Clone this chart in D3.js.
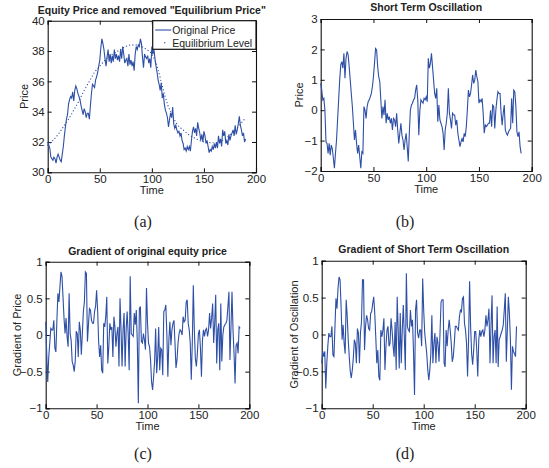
<!DOCTYPE html>
<html>
<head>
<meta charset="utf-8">
<script src="https://cdn.jsdelivr.net/npm/d3@7"></script>
<style>
  body { margin: 0; background: #fff; }
  svg text { font-family: "Liberation Sans", Arial, sans-serif; fill: #222; }
  .cap { font-family: "Liberation Serif", "Times New Roman", serif; }
</style>
</head>
<body>
<svg id="fig" width="549" height="468"></svg>
<script>
// ---- data (t = 0, 1, 2, ...) ----
let price = [32.0,31.8,31.6,31.0,30.9,30.8,31.0,30.9,30.6,31.0,31.2,31.0,30.8,30.7,31.2,31.7,32.4,33.0,33.5,33.8,
  34.5,34.8,35.0,34.9,35.3,34.7,35.4,35.7,35.5,35.2,35.0,34.8,34.4,34.1,33.8,34.2,34.0,33.6,33.9,33.9,
  33.5,34.4,35.2,35.8,35.7,35.6,36.1,36.3,36.6,37.0,37.4,38.2,38.8,38.5,38.1,37.5,37.0,37.6,38.1,37.3,
  37.8,37.2,37.7,37.3,38.1,37.5,37.8,37.4,37.7,37.3,38.1,37.5,38.3,37.8,37.2,37.4,37.5,37.0,37.8,37.1,
  37.4,37.0,37.3,36.7,37.8,38.3,38.1,38.4,38.3,38.8,38.5,37.6,36.9,37.8,37.6,37.5,37.7,37.2,37.5,36.9,
  38.3,37.8,38.1,37.5,37.0,36.6,36.1,35.8,35.4,35.9,34.9,35.2,34.5,34.1,33.9,33.6,33.0,33.5,33.9,33.6,
  34.3,33.2,32.9,33.1,32.8,32.6,32.7,32.4,32.6,32.1,31.9,31.5,31.6,31.4,31.7,31.5,31.7,31.4,32.1,32.7,
  33.0,32.6,32.9,32.4,33.3,32.9,32.6,32.1,32.5,32.0,32.7,32.4,31.9,32.1,31.7,31.3,31.5,31.4,31.7,31.5,
  31.9,31.6,32.0,31.6,32.4,31.9,32.2,31.7,32.8,32.4,32.7,31.9,32.1,31.8,32.5,32.1,32.4,32.6,32.8,32.4,
  33.1,32.5,32.8,33.2,33.7,33.1,32.8,32.4,32.6,32.0,32.2];

let eqTime  = [0,5,10,15,20,25,30,35,40,45,50,55,60,65,70,75,80,85,90,95,100,105,110,115,120,125,130,135,140,150,160,170,180,190];
let eqLevel = [31.8,32.1,32.5,33.0,33.5,34.1,34.7,35.4,36.0,36.6,37.0,37.4,37.7,37.9,38.1,38.3,38.4,38.4,38.3,38.1,37.8,37.0,35.7,34.5,33.7,33.1,32.8,32.5,32.3,32.0,31.95,32.2,32.8,33.6];

let oscillation = [0.88,0.66,0.34,0.39,0.0,-1.04,-1.09,-1.42,-1.09,-1.48,-1.15,-1.26,-1.58,-1.91,-1.42,-0.98,-0.32,0.34,0.99,1.49,
  1.6,1.38,1.87,1.05,1.7,1.93,1.82,1.43,0.99,0.55,0.12,-0.43,-0.98,-0.65,-1.09,-1.42,-1.15,-1.53,-1.91,-1.37,
  -1.42,0.12,0.0,-0.27,0.12,0.28,0.34,0.44,0.55,0.77,1.1,1.54,2.03,1.98,1.43,1.1,0.94,0.34,-0.27,0.12,
  -0.16,0.34,-0.43,-0.1,-0.32,-0.21,-0.43,-0.27,-0.65,-0.27,-0.32,-0.54,-0.1,-0.65,-1.09,-0.76,-0.43,-0.82,-0.98,-1.31,
  -0.98,-0.76,-1.2,-1.69,-0.76,0.0,0.17,0.23,0.34,0.39,0.66,0.83,0.34,-0.82,0.0,0.34,0.28,0.23,0.39,0.34,
  0.44,0.28,1.71,1.38,1.54,1.87,1.43,0.99,0.55,0.39,0.72,-0.38,0.17,-0.32,-0.43,-0.54,-0.76,-1.31,-0.65,-0.43,
  -0.1,0.72,-0.1,-0.32,-0.6,-0.1,-0.16,-0.16,-0.49,-0.32,-0.76,-0.98,-1.2,-1.04,-0.93,-1.04,-0.76,-0.87,-0.54,0.0,
  0.66,0.44,0.55,0.83,1.16,0.88,0.99,1.32,1.1,0.94,0.23,0.34,0.28,0.39,-0.1,-0.76,-0.49,-0.54,-0.49,-0.43,
  -0.43,0.0,-0.54,0.17,0.12,-0.6,0.0,0.34,0.61,0.55,0.55,-0.1,-0.49,-0.1,0.17,-0.65,-0.76,-0.82,-0.71,-0.65,
  -0.6,0.39,-0.43,0.66,0.61,0.12,-0.71,-0.87,-0.71,-1.2,-1.42];

let gradPrice = [0.18,-0.25,-0.64,-0.3,-0.11,0.09,0.07,0.07,0.2,-0.18,-0.23,0.2,0.57,0.45,0.66,0.86,0.8,0.52,0.23,0.02,
  0.23,-0.02,-0.16,0.57,0.02,-0.07,-0.36,-0.41,-0.5,-0.36,0.05,0.02,-0.3,0.18,0.07,-0.27,0.02,0.32,0.45,0.86,
  0.84,-0.09,0.14,0.36,0.34,0.2,0.16,0.16,0.32,0.39,0.61,0.34,-0.09,-0.3,-0.14,-0.48,-0.52,0.16,0.11,0.25,
  0.52,-0.39,-0.16,0.16,0.07,0.11,-0.3,0.25,0.11,-0.16,0.02,0.11,-0.43,0.5,0.07,-0.43,0.07,0.3,-0.43,0.07,
  0.32,0.02,-0.48,0.8,0.02,0.0,-0.02,0.3,0.14,0.34,-0.11,-0.93,0.36,0.39,-0.09,-0.11,0.02,-0.07,-0.2,0.64,
  0.16,-0.11,-0.16,-0.34,-0.64,-0.75,-0.57,-0.36,0.09,-0.52,-0.3,0.11,-0.48,-0.18,-0.2,-0.55,0.32,0.34,0.41,0.02,
  -0.57,-0.07,0.18,-0.14,0.07,0.16,0.2,-0.11,-0.45,-0.34,-0.11,0.02,0.07,0.05,0.0,0.25,0.18,0.2,0.45,0.48,
  0.16,0.07,-0.11,-0.61,-0.11,0.68,0.07,-0.32,-0.43,-0.25,0.02,0.07,-0.18,-0.57,-0.07,0.07,-0.02,0.07,0.09,-0.02,
  0.07,0.3,0.09,0.23,0.43,-0.11,0.16,0.55,-0.39,0.07,0.16,-0.48,0.43,-0.36,0.0,0.11,0.14,0.16,0.2,0.39,
  0.59,-0.34,0.11,0.59,0.07,-0.25,-0.66,-0.14,-0.11,-0.25,0.11,0.09];

let gradOsc = [-0.39,-0.23,-0.3,-0.23,-0.73,-0.39,-0.16,0.02,-0.03,-0.03,0.11,-0.28,-0.3,0.11,0.49,0.35,0.63,0.78,0.74,0.38,
  -0.07,0.13,-0.12,-0.26,0.47,0.25,-0.07,-0.3,-0.5,-0.59,-0.48,-0.32,-0.07,-0.12,-0.39,0.08,0.02,-0.39,0.02,0.17,
  0.74,0.74,-0.21,0.11,0.26,0.2,0.08,0.06,0.29,0.31,0.42,0.51,0.29,-0.03,-0.39,-0.21,-0.57,-0.62,0.06,-0.03,
  0.06,0.22,-0.48,-0.16,0.06,0.11,-0.16,-0.12,0.22,0.06,-0.16,-0.3,0.17,-0.48,0.51,0.06,-0.46,0.29,-0.39,0.06,
  0.4,-0.03,-0.48,0.83,0.11,0.06,0.04,0.33,0.11,0.2,-0.23,-0.82,0.33,0.47,0.02,-0.05,0.06,0.06,-0.16,0.76,
  0.33,0.02,-0.12,-0.26,-0.48,-0.62,-0.48,-0.26,0.26,-0.39,-0.12,0.02,-0.39,-0.03,-0.12,-0.37,0.02,0.44,0.47,0.47,
  -0.39,-0.44,0.06,-0.16,0.06,0.2,0.06,-0.12,-0.37,-0.3,-0.12,0.11,0.11,0.08,0.06,0.24,0.33,0.31,0.49,0.51,
  0.15,0.06,-0.12,-0.57,-0.07,0.72,0.11,-0.26,-0.41,-0.21,0.04,0.04,-0.21,-0.57,-0.07,0.06,-0.03,0.04,0.06,-0.03,
  0.06,0.26,0.11,0.2,0.35,-0.39,0.13,0.53,-0.39,-0.03,0.06,-0.39,0.38,-0.44,-0.07,-0.03,0.02,0.06,0.13,0.33,
  0.56,-0.37,0.06,0.51,0.29,-0.07,-0.75,-0.16,-0.23,-0.26,-0.3,0.11];

let xTicks = [0, 50, 100, 150, 200];

let lineColor = "#2e4fa6";
let svg = d3.select("#fig");

function drawPanel(p){
    let x = d3.scaleLinear().domain([0, 200]).range([p.left, p.right]);
    let y = d3.scaleLinear().domain(p.yDomain).range([p.bottom, p.top]);
    let g = svg.append("g");

    // inward ticks on all four sides, like the original
    g.append("g").attr("transform", `translate(0,${p.bottom})`)
        .call(d3.axisBottom(x).tickValues(xTicks).tickSize(-4).tickPadding(3).tickFormat(d3.format("d")));
    g.append("g").attr("transform", `translate(0,${p.top})`)
        .call(d3.axisTop(x).tickValues(xTicks).tickSize(-4).tickFormat(""));
    g.append("g").attr("transform", `translate(${p.left},0)`)
        .call(d3.axisLeft(y).tickValues(p.yTicks).tickSize(-4).tickPadding(3).tickFormat(p.yFormat));
    g.append("g").attr("transform", `translate(${p.right},0)`)
        .call(d3.axisRight(y).tickValues(p.yTicks).tickSize(-4).tickFormat(""));

    g.selectAll(".domain").attr("stroke", "#111").attr("stroke-width", 1.1);
    g.selectAll(".tick line").attr("stroke", "#111");
    g.selectAll(".tick text").attr("font-size", 11.5).attr("fill", "#222")
        .attr("font-family", "Liberation Sans, Arial, sans-serif");

    let line = d3.line().x((d, i) => x(i)).y(d => y(d));
    g.append("path").datum(p.values)
        .attr("fill", "none").attr("stroke", lineColor).attr("stroke-width", 1.1)
        .attr("d", line);

    g.append("text").attr("x", (p.left + p.right) / 2).attr("y", p.titleY)
        .attr("text-anchor", "middle").attr("font-weight", "bold").attr("font-size", 10.5)
        .text(p.title);
    g.append("text").attr("x", (p.left + p.right) / 2).attr("y", p.bottom + 22)
        .attr("text-anchor", "middle").attr("font-size", 11).text("Time");
    g.append("text").attr("transform", `translate(${p.ylabX},${(p.top + p.bottom) / 2}) rotate(-90)`)
        .attr("text-anchor", "middle").attr("font-size", 11).text(p.ylabel);
    g.append("text").attr("class", "cap").attr("x", p.capX).attr("y", p.capY)
        .attr("text-anchor", "middle").attr("font-size", 16).text(p.caption);

    return {x: x, y: y, g: g};
}

let fmt = d3.format("d");
let fmtG = d => d === 0 ? "0" : d3.format("~g")(d);

let a = drawPanel({left: 47.7, right: 256, top: 20.7, bottom: 172.3, yDomain: [30, 40],
    yTicks: [30, 32, 34, 36, 38, 40], yFormat: fmt, values: price,
    title: 'Equity Price and removed "Equilibrium Price"', titleY: 14, ylabel: "Price", ylabX: 28,
    caption: "(a)", capX: 143, capY: 227});

// equilibrium level, dotted
a.g.append("path").datum(eqTime.map((t, i) => [t, eqLevel[i]]))
    .attr("fill", "none").attr("stroke", lineColor).attr("stroke-width", 1.2)
    .attr("stroke-dasharray", "0.1,3.2").attr("stroke-linecap", "round")
    .attr("d", d3.line().curve(d3.curveMonotoneX).x(d => a.x(d[0])).y(d => a.y(d[1])));

// legend
let lg = a.g.append("g").attr("transform", "translate(152.7,20.7)");
lg.append("rect").attr("width", 103.3).attr("height", 28.6)
    .attr("fill", "#fff").attr("stroke", "#111").attr("stroke-width", 1.2);
lg.append("line").attr("x1", 2.5).attr("x2", 18.5).attr("y1", 9.3).attr("y2", 9.3)
    .attr("stroke", lineColor).attr("stroke-width", 1.1);
lg.append("circle").attr("cx", 12).attr("cy", 22).attr("r", 0.7).attr("fill", lineColor);
lg.append("text").attr("x", 19.5).attr("y", 13).attr("font-size", 10.5).text("Original Price");
lg.append("text").attr("x", 19.5).attr("y", 26).attr("font-size", 10.5).text("Equilibrium Level");

drawPanel({left: 320.7, right: 531.7, top: 19, bottom: 171, yDomain: [-2, 3],
    yTicks: [-2, -1, 0, 1, 2, 3], yFormat: fmt, values: oscillation,
    title: "Short Term Oscillation", titleY: 11, ylabel: "Price", ylabX: 303,
    caption: "(b)", capX: 405, capY: 227});

drawPanel({left: 45.7, right: 249.3, top: 261.7, bottom: 408.3, yDomain: [-1, 1],
    yTicks: [-1, -0.5, 0, 0.5, 1], yFormat: fmtG, values: gradPrice,
    title: "Gradient of original equity price", titleY: 254.5, ylabel: "Gradient of Price", ylabX: 21,
    caption: "(c)", capX: 143, capY: 459});

drawPanel({left: 321.7, right: 525.7, top: 260.7, bottom: 408.3, yDomain: [-1, 1],
    yTicks: [-1, -0.5, 0, 0.5, 1], yFormat: fmtG, values: gradOsc,
    title: "Gradient of Short Term Oscillation", titleY: 253, ylabel: "Gradient of Oscillation", ylabX: 298,
    caption: "(d)", capX: 405, capY: 459});
</script>
</body>
</html>
